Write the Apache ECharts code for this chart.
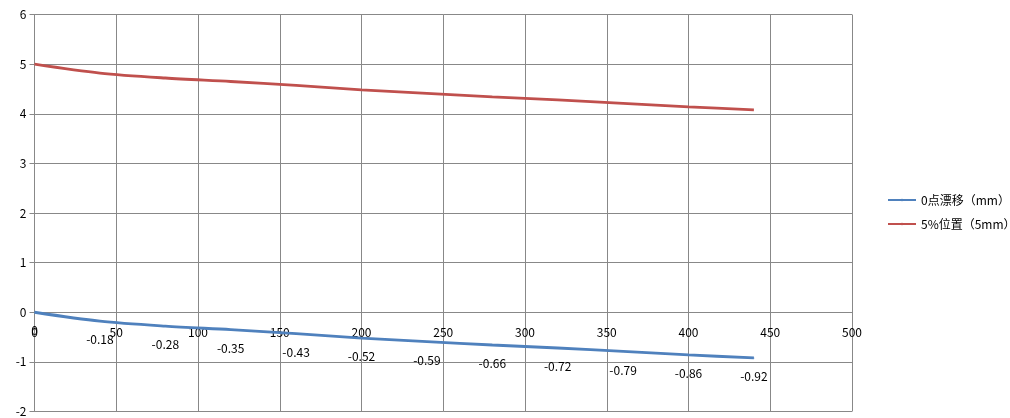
<!DOCTYPE html>
<html>
<head>
<meta charset="utf-8">
<script src="https://cdn.jsdelivr.net/npm/echarts@6/dist/echarts.min.js"></script>
<style>
html, body { margin: 0; padding: 0; background: #fff; }
#main { width: 1010px; height: 418px; }
</style>
</head>
<body>
<div id="main"></div>
<script>
// 位置 (x) 与两条曲线
var xValues = [0, 40, 80, 120, 160, 200, 240, 280, 320, 360, 400, 440];
var drift = [0, -0.18, -0.28, -0.35, -0.43, -0.52, -0.59, -0.66, -0.72, -0.79, -0.86, -0.92];
var pos5 = [5, 4.82, 4.72, 4.65, 4.57, 4.48, 4.41, 4.34, 4.28, 4.21, 4.14, 4.08];
var seriesNames = ['0点漂移（mm）', '5%位置（5mm）'];
var colors = ['#4F81BD', '#C0504D'];

function pairs(ys) {
    return xValues.map(function (x, i) { return [x, ys[i]]; });
}

var gridTop = 14.5, gridBottom = 6.5, H = 418;
var yMin = -2, yMax = 6;
// x 轴放在 y=0 处
var plotH = H - gridTop - gridBottom;
var xAxisOffset = -plotH * (0 - yMin) / (yMax - yMin);

var myChart = echarts.init(document.getElementById('main'));
var font = '"Noto Sans CJK SC", "Noto Sans", sans-serif';
var option = {
    animation: false,
    color: colors,
    textStyle: { fontFamily: font },
    grid: { left: 34.5, right: 158, top: gridTop, bottom: gridBottom, outerBoundsMode: 'none', containLabel: false },
    legend: {
        orient: 'vertical',
        left: 882,
        top: 189,
        itemWidth: 28,
        itemHeight: 3,
        itemGap: 12,
        textStyle: { color: '#000', fontSize: 12, fontFamily: font },
        data: seriesNames
    },
    xAxis: {
        type: 'value',
        position: 'bottom',
        offset: xAxisOffset,
        min: 0, max: 500, interval: 50,
        axisLine: { onZero: false, lineStyle: { color: '#888' } },
        axisTick: { show: false },
        axisLabel: { color: '#000', fontSize: 12, margin: 14 },
        splitLine: { show: true, lineStyle: { color: '#888', width: 1 } }
    },
    yAxis: {
        type: 'value',
        min: yMin, max: yMax, interval: 1,
        axisLine: { show: true, onZero: false, lineStyle: { color: '#888' } },
        axisTick: { show: true, length: 5, lineStyle: { color: '#888' } },
        axisLabel: { color: '#000', fontSize: 12, margin: 8 },
        splitLine: { show: true, lineStyle: { color: '#888', width: 1 } }
    },
    series: [
        {
            name: seriesNames[0],
            type: 'line',
            smooth: 0.3,
            showSymbol: true,
            symbol: 'circle',
            symbolSize: 1,
            itemStyle: { color: colors[0] },
            lineStyle: { width: 2.8, color: colors[0] },
            label: {
                show: true,
                position: 'bottom',
                distance: 12,
                color: '#000',
                fontSize: 12,
                formatter: function (p) { return p.value[1]; }
            },
            data: pairs(drift)
        },
        {
            name: seriesNames[1],
            type: 'line',
            smooth: 0.3,
            showSymbol: false,
            symbol: 'none',
            itemStyle: { color: colors[1] },
            lineStyle: { width: 2.8, color: colors[1] },
            data: pairs(pos5)
        }
    ]
};
myChart.setOption(option);
</script>
</body>
</html>
